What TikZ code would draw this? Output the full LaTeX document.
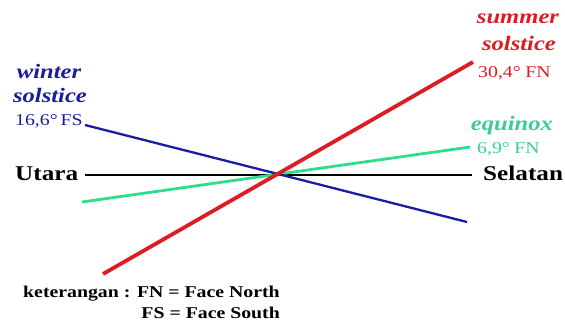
\documentclass[tikz,border=0pt]{standalone}
\usepackage{fontspec}
\setmainfont{Liberation Serif}[FakeStretch=1.2]
\definecolor{wblue}{RGB}{28,28,160}
\definecolor{sred}{RGB}{222,28,36}
\definecolor{egreen}{RGB}{45,222,140}
\definecolor{egtext}{RGB}{60,205,150}
\begin{document}
\begin{tikzpicture}[x=1pt,y=-1pt,
  lbl/.style={inner sep=0pt,font=\fontsize{16.5}{18}\selectfont},
  ttl/.style={inner sep=0pt,font=\fontsize{20.5}{22}\selectfont\bfseries\itshape},
  dir/.style={inner sep=0pt,font=\fontsize{21}{23}\selectfont\bfseries},
  key/.style={inner sep=0pt,font=\fontsize{16.5}{18}\selectfont\bfseries}]
\useasboundingbox[fill=white] (0,0) rectangle (565,322);
% endpoints
\coordinate (hN) at (85,175);
\coordinate (hS) at (472,175);
\coordinate (rA) at (103,274);
\coordinate (rB) at (473,62);
\coordinate (bA) at (85,125);
\coordinate (bB) at (467,222);
\coordinate (gA) at (82,202);
\coordinate (gB) at (470,147);
% lines
\draw[line width=1.1pt,black] (hN) -- (hS);
\draw[line width=2.8pt,egreen] (gA) -- (gB);
\draw[line width=2.3pt,wblue] (bA) -- (bB);
\draw[line width=3.8pt,sred] (rA) -- (rB);
% texts
\node[ttl,text=wblue,anchor=base] (w1) at (49,78) {winter};
\node[ttl,text=wblue,anchor=base] (w2) at (50,102) {solstice};
\node[lbl,text=wblue,anchor=base west] (w3) at (15,125) {16,6°\,FS};
\node[ttl,text=sred,anchor=base] (s1) at (518,23) {summer};
\node[ttl,text=sred,anchor=base] (s2) at (519,50) {solstice};
\node[lbl,text=sred,anchor=base west] (s3) at (478,77) {30,4°\;FN};
\node[ttl,text=egtext,anchor=base] (e1) at (512,130) {equinox};
\node[lbl,text=egtext,anchor=base west] (e2) at (477,153) {6,9°\;FN};
\node[dir,anchor=base west] (ut) at (15,180) {Utara};
\node[dir,anchor=base west] (se) at (483,180) {Selatan};
\node[key,anchor=base west] (k1) at (23,297) {keterangan : FN = Face North};
\node[key,anchor=base east] (k2) at (280,318) {FS = Face South};
\end{tikzpicture}
\end{document}
